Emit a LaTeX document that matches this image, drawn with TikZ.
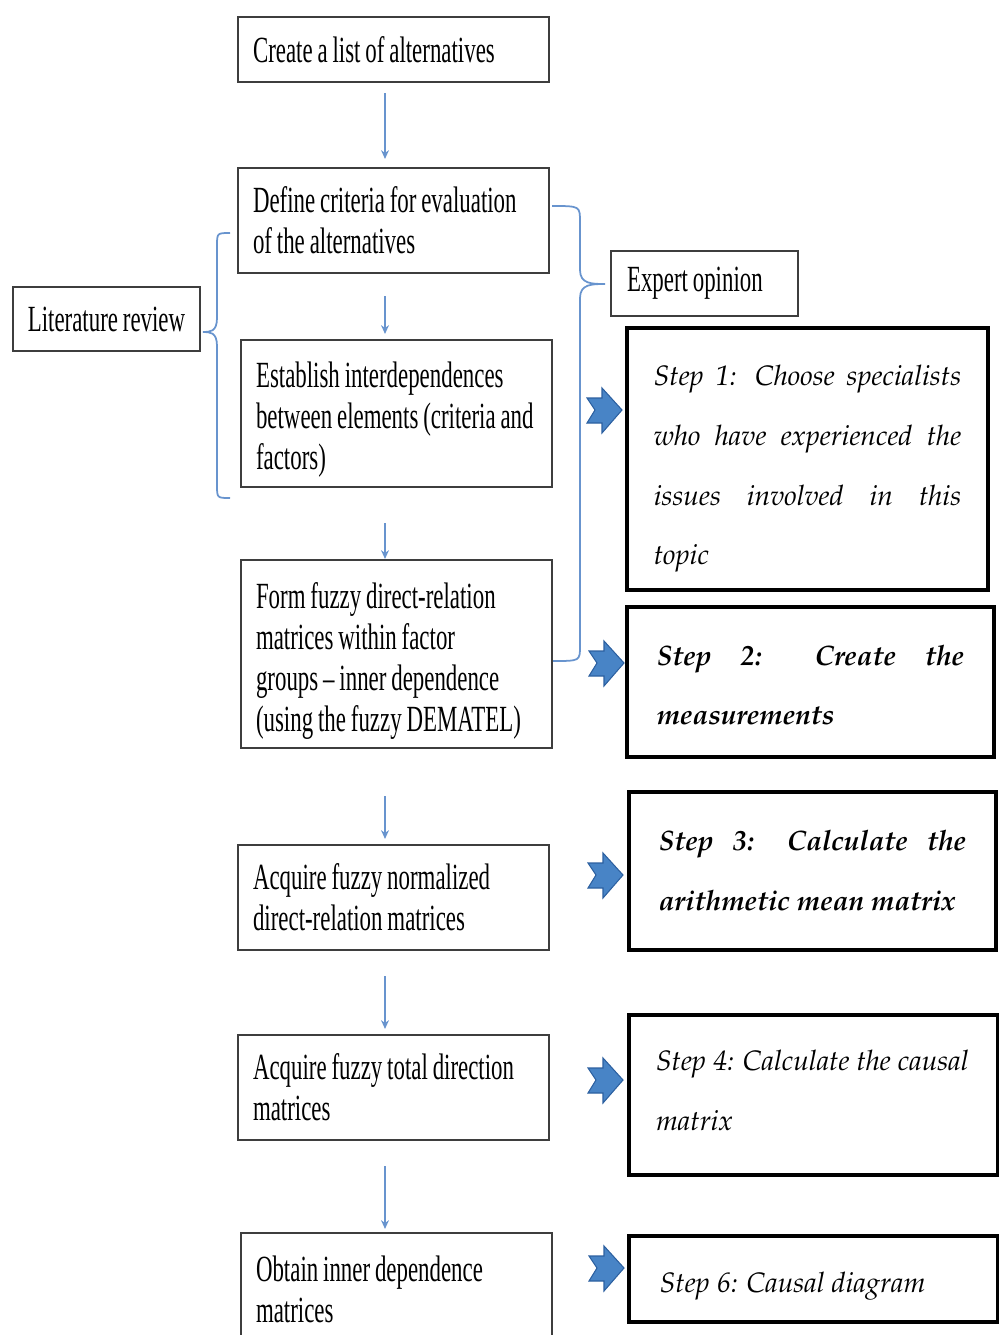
\documentclass[tikz,border=0pt]{standalone}
\usepackage[T1]{fontenc}
\usepackage{fontspec}
\usetikzlibrary{arrows.meta}

\newfontfamily\narrowserif[FakeStretch=0.62, WordSpace=0.85]{Liberation Serif}
\newcommand\stepfont{\fontencoding{T1}\fontfamily{ppl}\fontshape{it}\fontsize{16}{34}\selectfont}

\definecolor{linkblue}{RGB}{104,148,206}
\definecolor{chevblue}{RGB}{72,132,198}
\definecolor{chevedge}{RGB}{44,96,160}
\definecolor{boxgray}{RGB}{62,62,62}

\tikzset{
  plain box/.style={draw=boxgray, line width=1.2pt, align=flush left, text width=5.62cm,
    minimum width=6.22cm, inner sep=0pt, font=\narrowserif\fontsize{21}{23.3}\selectfont},
  stepbox/.style={draw=black, line width=2.4pt, align=justify, text width=6.15cm,
    inner sep=0pt, font=\stepfont},
  flow/.style={draw=linkblue, line width=0.9pt, -{Stealth[length=5pt,width=4.5pt]}},
  brace/.style={draw=linkblue, line width=1pt},
  chevron/.pic={
    \draw [fill=chevblue, draw=chevedge, line width=0.6pt] (-17,-12) -- (-2,-12) -- (-2,-22)
      -- (18,0) -- (-2,23) -- (-2,13) -- (-17,13) -- (-9,0) -- cycle;
  }
}

\begin{document}
\begin{tikzpicture}[x=0.02cm, y=-0.02cm]
                \useasboundingbox (0,0) rectangle (999,1335);
                % left column
                \node [plain box, minimum height=1.3cm] (alt) at (393.5,49.5) {Create a list of alternatives};
                \node [plain box, minimum height=2.1cm] (crit) at (393.5,220.5) {Define criteria for evaluation\\ of the alternatives};
                \node [plain box, minimum height=2.94cm] (inter) at (396.5,413.5) {\rule{0pt}{21.5pt}Establish interdependences\\ between elements (criteria and\\ factors)};
                \node [plain box, minimum height=3.76cm] (form) at (396.5,654) {\rule{0pt}{22.5pt}Form fuzzy direct-relation\\ matrices within factor\\ groups – inner dependence\\ (using the fuzzy DEMATEL)};
                \node [plain box, minimum height=2.1cm] (norm) at (393.5,897.5) {Acquire fuzzy normalized\\ direct-relation matrices};
                \node [plain box, minimum height=2.1cm] (total) at (393.5,1087.5) {Acquire fuzzy total direction\\ matrices};
                \node [plain box, minimum height=2.24cm] (inner) at (396.5,1289) {Obtain inner dependence\\ matrices};
                % side boxes
                \node [plain box, text width=3.5cm, minimum width=3.74cm, minimum height=1.28cm, align=flush center] (lit) at (106.5,319) {Literature review};
                \node [plain box, text width=3.1cm, minimum width=3.74cm, minimum height=1.3cm] (expert) at (704.5,283.5) {Expert opinion};
                % steps
                \node [stepbox, minimum width=7.22cm, minimum height=5.24cm] (s1) at (807.5,459) {\rule{0pt}{23pt}Step 1: Choose specialists\linebreak who have experienced the\linebreak issues involved in this\linebreak topic};
                \node [stepbox, minimum width=7.34cm, minimum height=3cm, font=\stepfont\bfseries] (s2) at (810.5,682) {\rule{0pt}{15pt}Step 2: Create the\linebreak measurements};
                \node [stepbox, minimum width=7.34cm, minimum height=3.16cm, font=\stepfont\bfseries] (s3) at (812.5,871) {Step 3: Calculate the\linebreak arithmetic mean matrix};
                \node [stepbox, text width=6.3cm, minimum width=7.38cm, minimum height=3.2cm] (s4) at (813.5,1095) {Step 4: Calculate the causal\\ matrix\rule[-5.7pt]{0pt}{1pt}};
                \node [stepbox, minimum width=7.38cm, minimum height=1.72cm] (s6) at (813.5,1279) {\rule{0pt}{19.5pt}Step 6: Causal diagram};
                % arrows down the left column
                \coordinate (col) at (385,0);
                \draw [flow, shorten <=0.2cm, shorten >=0.16cm] (alt.south -| col) -- (crit.north -| col);
                \draw [flow, shorten <=0.44cm, shorten >=0.1cm] (crit.south -| col) -- (inter.north -| col);
                \draw [flow, shorten <=0.7cm] (inter.south -| col) -- (form.north -| col);
                \draw [flow, shorten <=0.94cm, shorten >=0.1cm] (form.south -| col) -- (norm.north -| col);
                \draw [flow, shorten <=0.5cm, shorten >=0.1cm] (norm.south -| col) -- (total.north -| col);
                \draw [flow, shorten <=0.5cm, shorten >=0.06cm] (total.south -| col) -- (inner.north -| col);
                % braces
                \draw [brace] (230,233) .. controls (217,233) .. (217,246) -- (217,318)
                    .. controls (217,332) and (210,332) .. (203,332)
                    .. controls (210,332) and (217,332) .. (217,346) -- (217,485)
                    .. controls (217,498) .. (230,498);
                \draw [brace] (552,206) .. controls (580,206) .. (580,222) -- (580,270)
                    .. controls (580,284) and (592,284) .. (605,284)
                    .. controls (592,284) and (580,284) .. (580,298) -- (580,646)
                    .. controls (580,661) .. (553,661);
                % block arrows
                \pic at (604,410) {chevron};
                \pic at (606,663) {chevron};
                \pic at (605,875) {chevron};
                \pic at (605,1080) {chevron};
                \pic at (606,1268) {chevron};
\end{tikzpicture}
\end{document}
